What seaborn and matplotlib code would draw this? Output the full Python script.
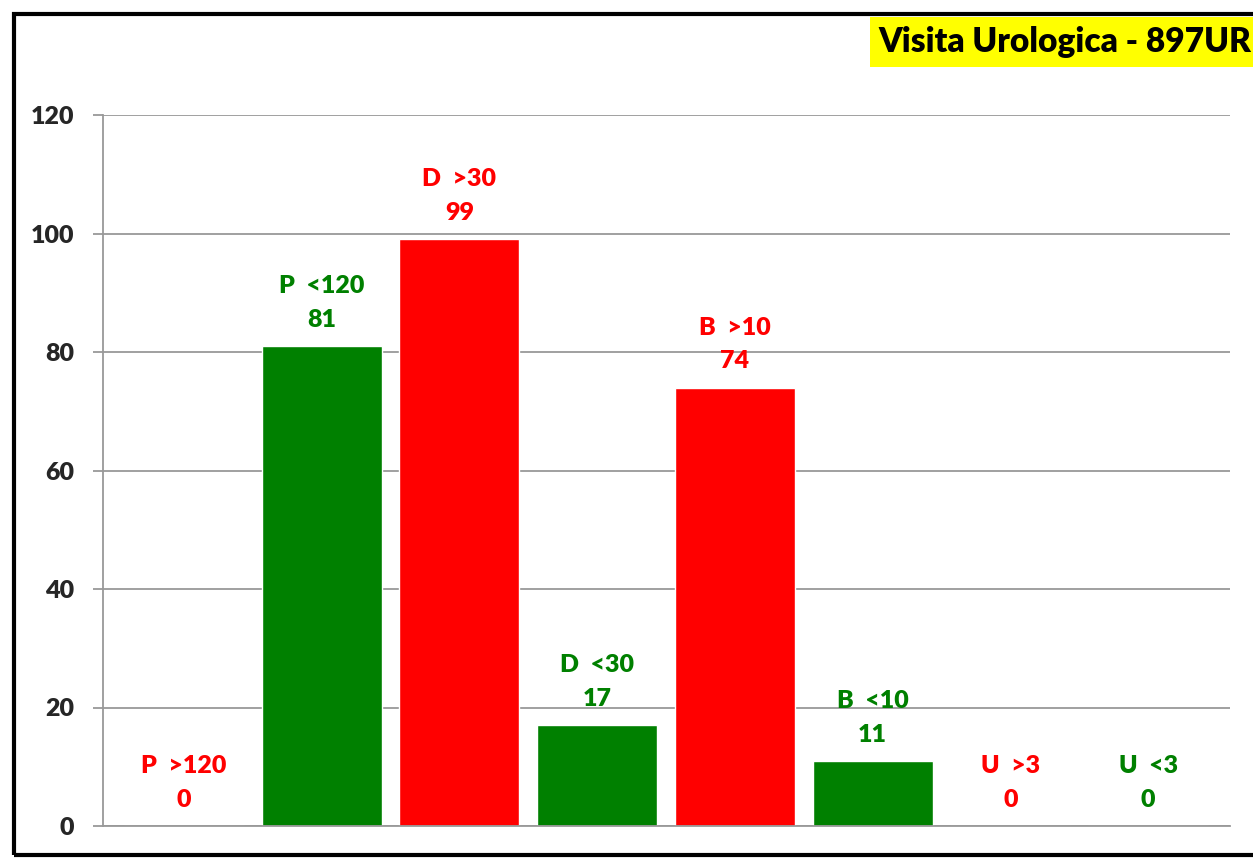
import matplotlib
matplotlib.use("Agg")
import matplotlib.pyplot as plt
from matplotlib.patches import Rectangle
import seaborn as sns

categories = ["P  >120", "P  <120", "D  >30", "D  <30", "B  >10", "B  <10", "U  >3", "U  <3"]
values = [0, 81, 99, 17, 74, 11, 0, 0]
colors = ["#FF0000", "#008000", "#FF0000", "#008000", "#FF0000", "#008000", "#FF0000", "#008000"]
y_ticks = [0, 20, 40, 60, 80, 100, 120]
title = "Visita Urologica - 897UR"

sns.set_style("white")
plt.rcParams['font.family'] = ['Lato', 'DejaVu Sans']

fig = plt.figure(figsize=(12.53, 8.58), dpi=100)
ax = fig.add_axes([103 / 1253, 1 - 826 / 858, (1230 - 103) / 1253, (826 - 115) / 858])

sns.barplot(x=categories, y=values, hue=categories, palette=colors, legend=False,
            width=0.87, saturation=1, ax=ax, order=categories)

ax.set_xlim(-0.587, 7.594)
ax.set_ylim(0, 120)
ax.set_yticks(y_ticks)
ax.set_yticklabels([str(t) for t in y_ticks], fontsize=18, fontweight='heavy')
ax.set_xticks([])
ax.set_xlabel('')
ax.set_ylabel('')
ax.yaxis.grid(True, color='#999999', linewidth=1.3)
ax.set_axisbelow(True)
ax.tick_params(axis='y', length=7, width=1.3, color='#999999', pad=14, left=True)
for side in ['top', 'right']:
    ax.spines[side].set_visible(False)
for side in ['left', 'bottom']:
    ax.spines[side].set_color('#999999')
    ax.spines[side].set_linewidth(1.3)

for i, (cat, val, col) in enumerate(zip(categories, values, colors)):
    ax.annotate("{}\n{}".format(cat, val), xy=(i, val), xytext=(0, 11),
                textcoords='offset points', ha='center', va='bottom',
                fontsize=18, fontweight='heavy', color=col, linespacing=1.65)

# frame around the chart
fig.patches.append(Rectangle((14 / 1253, 1 - 855 / 858), 1.2, (855 - 14) / 858,
                             transform=fig.transFigure, fill=False,
                             edgecolor='black', linewidth=3, clip_on=False))

# title box
fig.patches.append(Rectangle((870 / 1253, 1 - 67 / 858), 1, 50 / 858,
                             transform=fig.transFigure, facecolor='#FFFF00',
                             edgecolor='none'))
fig.text(878 / 1253, 1 - 42 / 858, title, fontsize=24, fontweight='heavy',
         ha='left', va='center', color='black')

fig.savefig('out.png', dpi=100)
